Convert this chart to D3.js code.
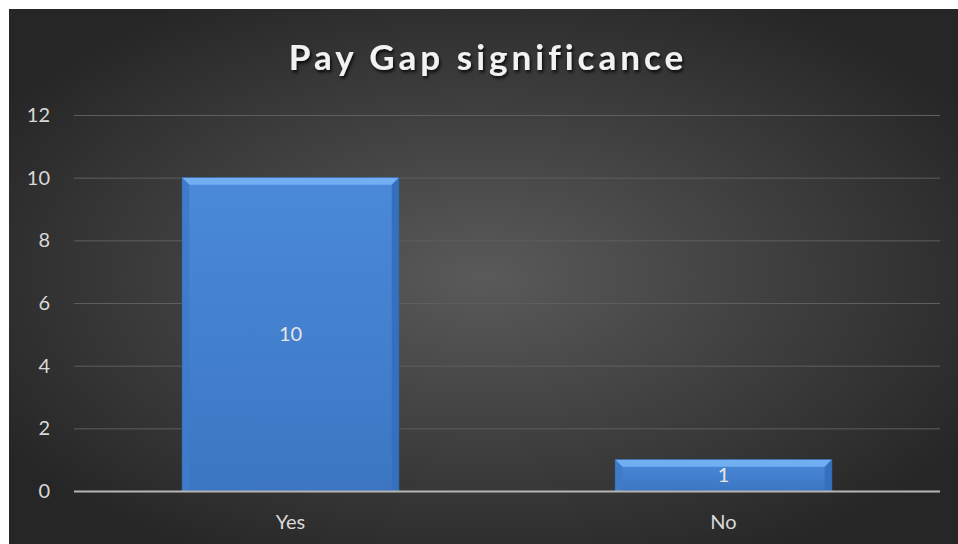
<!DOCTYPE html>
<html>
<head>
<meta charset="utf-8">
<script src="https://cdn.jsdelivr.net/npm/d3@7"></script>
<style>
  html, body { margin: 0; padding: 0; background: #fff; }
  svg { display: block; }
  text { font-family: Lato, "Open Sans", sans-serif; }
</style>
</head>
<body>
<svg id="chart" width="958" height="544"></svg>
<script>
const categories = ['Yes', 'No'];
const counts = [10, 1];
const yTicks = [0, 2, 4, 6, 8, 10, 12];
const chartTitle = 'Pay Gap significance';

const svg = d3.select('#chart');
const width = 958, height = 544;
const margin = { top: 115, right: 18, bottom: 53, left: 74 };

const defs = svg.append('defs');

const bg = defs.append('radialGradient')
  .attr('id', 'bg')
  .attr('cx', '50%').attr('cy', '50%').attr('r', '60%');
bg.append('stop').attr('offset', '0%').attr('stop-color', '#5a5a5a');
bg.append('stop').attr('offset', '100%').attr('stop-color', '#262626');

const barGrad = defs.append('linearGradient')
  .attr('id', 'barGrad').attr('x1', 0).attr('y1', 0).attr('x2', 0).attr('y2', 1);
barGrad.append('stop').attr('offset', '0%').attr('stop-color', '#4a8ad9');
barGrad.append('stop').attr('offset', '100%').attr('stop-color', '#3c76c3');

const shadow = defs.append('filter').attr('id', 'titleShadow')
  .attr('x', '-10%').attr('y', '-20%').attr('width', '120%').attr('height', '150%');
shadow.append('feDropShadow')
  .attr('dx', 1.5).attr('dy', 2.5).attr('stdDeviation', 1.5)
  .attr('flood-color', '#000').attr('flood-opacity', 0.8);

// background
svg.append('rect')
  .attr('x', 9).attr('y', 9)
  .attr('width', width - 9).attr('height', height - 9)
  .attr('fill', 'url(#bg)');

svg.append('text')
  .attr('x', 488)
  .attr('y', 70)
  .attr('text-anchor', 'middle')
  .attr('fill', '#f2f2f2')
  .attr('font-size', 35)
  .attr('font-weight', 'bold')
  .attr('letter-spacing', 4)
  .attr('filter', 'url(#titleShadow)')
  .text(chartTitle);

let x = d3.scaleBand()
  .domain(categories)
  .range([margin.left, width - margin.right])
  .paddingInner(0.5)
  .paddingOuter(0.25);

let y = d3.scaleLinear()
  .domain([0, 12])
  .range([height - margin.bottom, margin.top]);

// gridlines
svg.append('g')
  .selectAll('line')
  .data(yTicks.filter(d => d > 0))
  .enter()
  .append('line')
  .attr('x1', margin.left)
  .attr('x2', width - margin.right)
  .attr('y1', d => y(d) + 0.5)
  .attr('y2', d => y(d) + 0.5)
  .attr('stroke', '#5e5e5e')
  .attr('stroke-width', 1);

// y labels
let yAxis = svg.append('g')
  .attr('transform', `translate(${margin.left - 24},0)`)
  .call(d3.axisLeft(y).tickValues(yTicks).tickSize(0).tickPadding(0));
yAxis.select('.domain').remove();
yAxis.selectAll('text')
  .attr('fill', '#d9d9d9')
  .attr('font-size', 20)
  .attr('font-family', 'Lato, "Open Sans", sans-serif');

// bars
let g = svg.append('g');
let bars = g.selectAll('g.bar')
  .data(categories.map((c, i) => ({ cat: c, value: counts[i] })))
  .enter()
  .append('g')
  .classed('bar', true);

bars.append('rect')
  .attr('x', d => x(d.cat))
  .attr('y', d => y(d.value))
  .attr('width', x.bandwidth())
  .attr('height', d => y(0) - y(d.value))
  .attr('fill', 'url(#barGrad)')
  .attr('stroke', '#2f5f9e')
  .attr('stroke-width', 1);

// bevel highlights
const bev = 7;
bars.append('polygon')
  .attr('points', d => {
    let x0 = x(d.cat), x1 = x0 + x.bandwidth(), y0 = y(d.value);
    return [[x0, y0], [x1, y0], [x1 - bev, y0 + bev], [x0 + bev, y0 + bev]].join(' ');
  })
  .attr('fill', '#72aef2');
bars.append('polygon')
  .attr('points', d => {
    let x0 = x(d.cat), y0 = y(d.value), yb = y(0);
    return [[x0, y0], [x0 + bev, y0 + bev], [x0 + bev, yb], [x0, yb]].join(' ');
  })
  .attr('fill', '#3f7bc8');
bars.append('polygon')
  .attr('points', d => {
    let x1 = x(d.cat) + x.bandwidth(), y0 = y(d.value), yb = y(0);
    return [[x1, y0], [x1 - bev, y0 + bev], [x1 - bev, yb], [x1, yb]].join(' ');
  })
  .attr('fill', '#3470bd');

bars.append('text')
  .attr('x', d => x(d.cat) + x.bandwidth() / 2)
  .attr('y', d => (y(d.value) + y(0)) / 2)
  .attr('dy', '0.35em')
  .attr('text-anchor', 'middle')
  .attr('fill', '#e6e6e6')
  .attr('font-size', 20)
  .text(d => d.value);

// baseline
svg.append('line')
  .attr('x1', margin.left)
  .attr('x2', width - margin.right)
  .attr('y1', y(0) + 0.5)
  .attr('y2', y(0) + 0.5)
  .attr('stroke', '#b5b5b5')
  .attr('stroke-width', 2);

// x labels
svg.append('g')
  .selectAll('text')
  .data(categories)
  .enter()
  .append('text')
  .attr('x', d => x(d) + x.bandwidth() / 2)
  .attr('y', 529)
  .attr('text-anchor', 'middle')
  .attr('fill', '#d9d9d9')
  .attr('font-size', 20)
  .text(d => d);
</script>
</body>
</html>
